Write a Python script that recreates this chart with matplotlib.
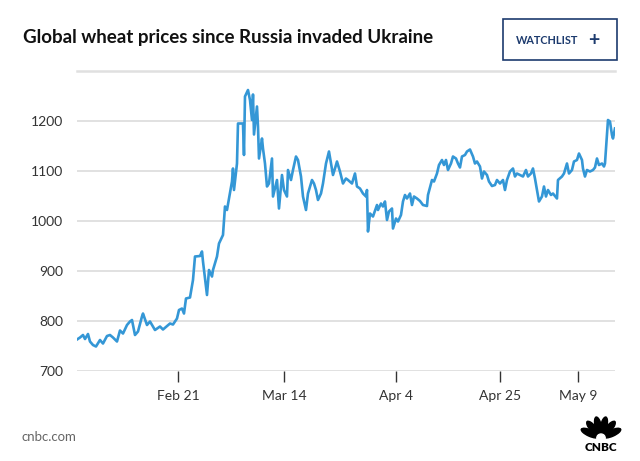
import numpy as np
import matplotlib.pyplot as plt
from matplotlib.patches import Rectangle, Ellipse

# wheat futures (t = sample position, price in cents/bu)
t = [0, 3, 6, 8, 11, 13, 16, 19, 23, 26,
     30, 33, 36, 40, 43, 46, 50, 53, 55, 58,
     61, 65, 66, 70, 73, 78, 83, 86, 90, 93,
     96, 100, 102, 105, 107, 109, 113, 116, 118, 123,
     125, 126, 128, 130, 132, 135, 136, 140, 142, 146,
     148, 150, 152, 155, 156, 157, 160, 161, 166, 167,
     168, 171, 173, 175, 176, 177, 180, 181, 182, 185,
     186, 188, 190, 192, 195, 196, 200, 202, 205, 207,
     210, 211, 214, 216, 219, 221, 224, 226, 229, 231,
     235, 237, 239, 241, 244, 246, 249, 252, 254, 256,
     258, 260, 263, 266, 269, 271, 275, 278, 280, 283,
     286, 289, 290, 291, 293, 296, 300, 301, 304, 306,
     308, 310, 312, 315, 316, 319, 321, 324, 326, 328,
     330, 333, 335, 337, 340, 343, 346, 350, 351, 355,
     357, 360, 362, 365, 367, 369, 371, 374, 376, 379,
     381, 383, 385, 388, 390, 393, 396, 398, 400, 403,
     405, 407, 410, 412, 415, 418, 420, 423, 426, 428,
     430, 433, 436, 438, 440, 443, 446, 449, 451, 454,
     456, 458, 460, 462, 465, 467, 469, 471, 474, 476,
     480, 481, 485, 487, 490, 492, 495, 497, 500, 502,
     505, 506, 508, 510, 513, 516, 518, 520, 522, 525,
     527, 528, 530, 531, 533, 535, 536, 538]
price = [763, 767, 772, 764, 774, 759, 752, 749, 762, 755,
         770, 772, 767, 759, 781, 775, 792, 799, 802, 772,
         779, 809, 815, 792, 799, 782, 789, 783, 790, 795,
         793, 805, 822, 825, 815, 845, 847, 882, 929, 930,
         939, 919, 885, 852, 902, 889, 902, 929, 955, 972,
         1029, 1022, 1045, 1079, 1105, 1062, 1115, 1195, 1195, 1132,
         1249, 1262, 1242, 1202, 1253, 1173, 1229, 1189, 1125, 1165,
         1145, 1115, 1069, 1075, 1125, 1049, 1082, 1025, 1092, 1062,
         1049, 1102, 1082, 1102, 1129, 1122, 1089, 1049, 1022, 1055,
         1082, 1075, 1062, 1042, 1055, 1075, 1115, 1139, 1115, 1092,
         1105, 1119, 1099, 1075, 1085, 1082, 1075, 1095, 1069, 1065,
         1055, 1049, 1062, 979, 1015, 1009, 1032, 1022, 1035, 1029,
         1039, 1002, 1019, 1025, 985, 1005, 999, 1012, 1039, 1052,
         1045, 1055, 1032, 1049, 1045, 1040, 1032, 1030, 1052, 1082,
         1079, 1095, 1112, 1122, 1112, 1122, 1102, 1115, 1129, 1125,
         1115, 1107, 1129, 1132, 1139, 1143, 1129, 1115, 1119, 1109,
         1085, 1099, 1092, 1079, 1070, 1072, 1082, 1075, 1082, 1062,
         1082, 1099, 1105, 1089, 1095, 1092, 1089, 1102, 1089, 1095,
         1105, 1085, 1062, 1039, 1049, 1069, 1049, 1062, 1052, 1055,
         1045, 1082, 1089, 1095, 1115, 1095, 1102, 1119, 1122, 1135,
         1122, 1105, 1089, 1102, 1099, 1102, 1107, 1125, 1112, 1115,
         1109, 1115, 1175, 1202, 1199, 1172, 1165, 1185]

tick_pos = [101, 207, 319, 423, 501]
tick_labels = ['Feb 21', 'Mar 14', 'Apr 4', 'Apr 25', 'May 9']
y_ticks = [700, 800, 900, 1000, 1100, 1200]

plt.rcParams['font.family'] = ['Lato', 'DejaVu Sans']

fig = plt.figure(figsize=(6.4, 4.61), dpi=100)
ax = fig.add_axes([0.1203, 0.1952, 0.8406, 0.6508])

ax.plot(t, price, color='#3497d6', linewidth=1.9, solid_joinstyle='round', zorder=3)

ax.set_xlim(0, 538)
ax.set_ylim(700, 1300)
ax.set_yticks(y_ticks)
ax.set_yticklabels([str(v) for v in y_ticks])
ax.set_xticks(tick_pos)
ax.set_xticklabels(tick_labels)

ax.grid(axis='y', color='#dcdcdc', linewidth=1.2, zorder=0)
for side in ['left', 'right', 'bottom']:
    ax.spines[side].set_visible(False)
ax.spines['top'].set_color('#e0e0e0')
ax.spines['top'].set_linewidth(1.8)

ax.tick_params(axis='y', length=0, pad=10, labelsize=10, labelcolor='#333333')
ax.tick_params(axis='x', direction='out', length=8, width=1, color='#333333',
               pad=6, labelsize=10, labelcolor='#333333')

# header
fig.text(23 / 640, 1 - 37 / 461, 'Global wheat prices since Russia invaded Ukraine',
         fontsize=13.5, fontweight='bold', color='#111111', va='center', ha='left')

box = Rectangle((503 / 640, 1 - 60 / 461), 114 / 640, 41 / 461, transform=fig.transFigure,
                fill=False, edgecolor='#1d3b6e', linewidth=1.2)
fig.add_artist(box)
fig.text(547 / 640, 1 - 40 / 461, 'WATCHLIST', fontsize=7.8, fontweight='bold',
         color='#1d3b6e', ha='center', va='center')
fig.text(594 / 640, 1 - 40 / 461, '+', fontsize=14, fontweight='bold',
         color='#1d3b6e', ha='center', va='center')

# footer
fig.text(22 / 640, 1 - 437 / 461, 'cnbc.com', fontsize=9.5, color='#666666',
         ha='left', va='center')

# simplified peacock logo
logo = fig.add_axes([578 / 640, 1 - 452 / 461, 46 / 640, 40 / 461])
logo.set_xlim(-1.15, 1.15)
logo.set_ylim(-1, 1)
logo.axis('off')
pivot = (0.0, -0.3)
for ang in [-66, -40, -13, 13, 40, 66]:
    a = np.radians(ang)
    cx = pivot[0] + 0.6 * np.sin(a)
    cy = pivot[1] + 0.6 * np.cos(a)
    logo.add_patch(Ellipse((cx, cy), 0.32, 0.95, angle=-ang, color='black'))
logo.add_patch(Ellipse(pivot, 0.42, 0.4, color='white'))
logo.text(0, -0.75, 'CNBC', fontsize=8.5, fontweight='heavy', ha='center', va='center',
          color='black')

fig.savefig('out.png', dpi=100)
